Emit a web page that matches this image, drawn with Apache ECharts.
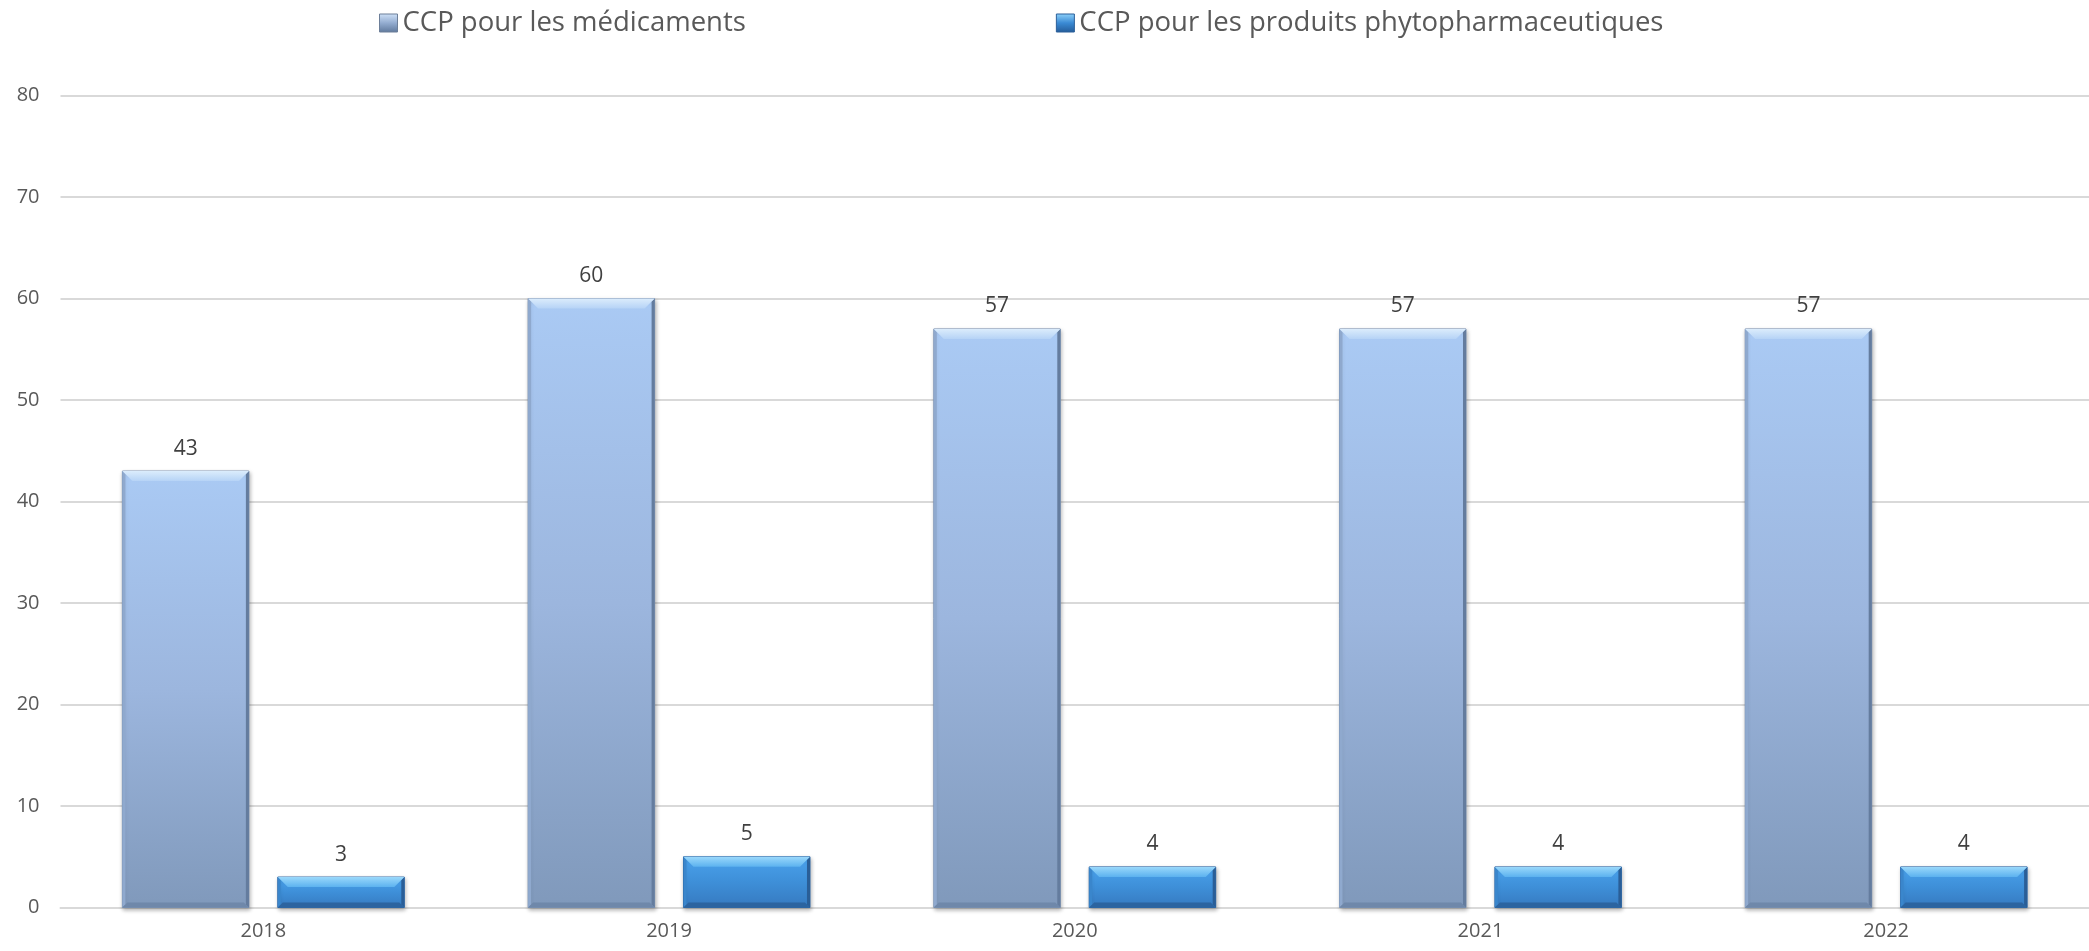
<!DOCTYPE html>
<html><head><meta charset="utf-8">
<script src="https://cdn.jsdelivr.net/npm/echarts@6/dist/echarts.min.js"></script>
<style>html,body{margin:0;padding:0;background:#fff}#c{width:2089px;height:951px}</style>
</head><body><div id="c"></div>
<script>
const categories = ['2018','2019','2020','2021','2022'];
const seriesNames = ['CCP pour les médicaments','CCP pour les produits phytopharmaceutiques'];
const medicaments = [43, 60, 57, 57, 57];
const phyto = [3, 5, 4, 4, 4];
const yTicks = [0,10,20,30,40,50,60,70,80];

const FONT = '"Open Sans", "Noto Sans", sans-serif';
const chart = echarts.init(document.getElementById('c'));
function grad(stops){
  return new echarts.graphic.LinearGradient(0,0,0,1,stops.map((c,i)=>({offset:i/(stops.length-1),color:c})));
}
const palettes = [
  {main:['#aacaf4','#9cb6de','#8099bb'], top:['#dbecfc','#b6d3f6'], left:'#8fa9ce', right:'#647c9e', bottom:'#6f88aa', border:'#7d93b3'},
  {main:['#4aa2ec','#3e8fd8','#3679bf'], top:['#9ad8fb','#5cb2ef'], left:'#3a86cc', right:'#2a5e97', bottom:'#2c64a0', border:'#2f68a6'}
];
const RATIO_W = 127/407.3, RATIO_GAP = 29/407.3;

function makeRender(si){
  const p = palettes[si];
  return function(params, api){
    const idx = api.value(0), val = api.value(1);
    const top = api.coord([idx, val]);
    const base = api.coord([idx, 0]);
    const catW = api.size([1,0])[0];
    const w = catW*RATIO_W, g = catW*RATIO_GAP;
    const cx = top[0] + (si===0 ? -(w+g)/2 : (w+g)/2);
    const x = cx - w/2, y = top[1], h = base[1]-top[1];
    const b = Math.min(10, h*0.35);
    const s = 3;
    const bb = Math.min(5, h*0.18);
    const poly = (pts, fill) => ({type:'polygon', shape:{points:pts}, style:{fill:fill}, silent:true});
    return {type:'group', children:[
      {type:'rect', shape:{x:x, y:y, width:w, height:h}, style:{fill:grad(p.main), stroke:p.border, lineWidth:1,
        shadowColor:'rgba(0,0,0,0.28)', shadowBlur:4, shadowOffsetY:2, shadowOffsetX:1}},
      poly([[x,y],[x+s,y+s],[x+s,y+h-s],[x,y+h]], p.left),
      poly([[x+w,y],[x+w-s,y+s],[x+w-s,y+h-s],[x+w,y+h]], p.right),
      poly([[x,y+h],[x+bb,y+h-bb],[x+w-bb,y+h-bb],[x+w,y+h]], p.bottom),
      poly([[x,y],[x+w,y],[x+w-b,y+b],[x+b,y+b]], new echarts.graphic.LinearGradient(0,0,0,1,[{offset:0,color:p.top[0]},{offset:1,color:p.top[1]}])),
      {type:'text', x:cx, y:y-12, style:{text:String(val), fill:'#404040', font:'21px '+FONT, align:'center', verticalAlign:'bottom'}, silent:true}
    ]};
  };
}

chart.setOption({
  animation:false,
  textStyle:{fontFamily:FONT},
  legend:{
    top:4, left:374, itemGap:310, itemWidth:18, itemHeight:18, icon:'rect',
    textStyle:{fontSize:27.5, color:'#595959', fontFamily:FONT},
    data:[{name:seriesNames[0], itemStyle:{color:grad(['#d0e2f8','#93acd0','#5e789b']), borderColor:'#6d7f99', borderWidth:1}},
          {name:seriesNames[1], itemStyle:{color:grad(['#8fd2fa','#3a8ad4','#245b98']), borderColor:'#2b5f99', borderWidth:1}}]
  },
  grid:{left:60.5, right:-8, top:95.5, bottom:43.5, containLabel:false},
  xAxis:{type:'category', data:categories,
    axisLine:{lineStyle:{color:'#d9d9d9', width:2}}, axisTick:{show:false},
    axisLabel:{color:'#595959', fontSize:20, margin:14, fontFamily:FONT}},
  yAxis:{type:'value', min:yTicks[0], max:yTicks[yTicks.length-1], interval:10,
    axisLine:{show:false}, axisTick:{show:false},
    splitLine:{lineStyle:{color:'#d9d9d9', width:2}},
    axisLabel:{color:'#595959', fontSize:20, margin:21, fontFamily:FONT}},
  series:[
    {name:seriesNames[0], type:'custom', data:medicaments.map((v,i)=>[i,v]), renderItem:makeRender(0),
     encode:{x:0,y:1}, itemStyle:{color:'#9bb5de'}},
    {name:seriesNames[1], type:'custom', data:phyto.map((v,i)=>[i,v]), renderItem:makeRender(1),
     encode:{x:0,y:1}, itemStyle:{color:'#3f8fd8'}}
  ]
});
</script></body></html>
